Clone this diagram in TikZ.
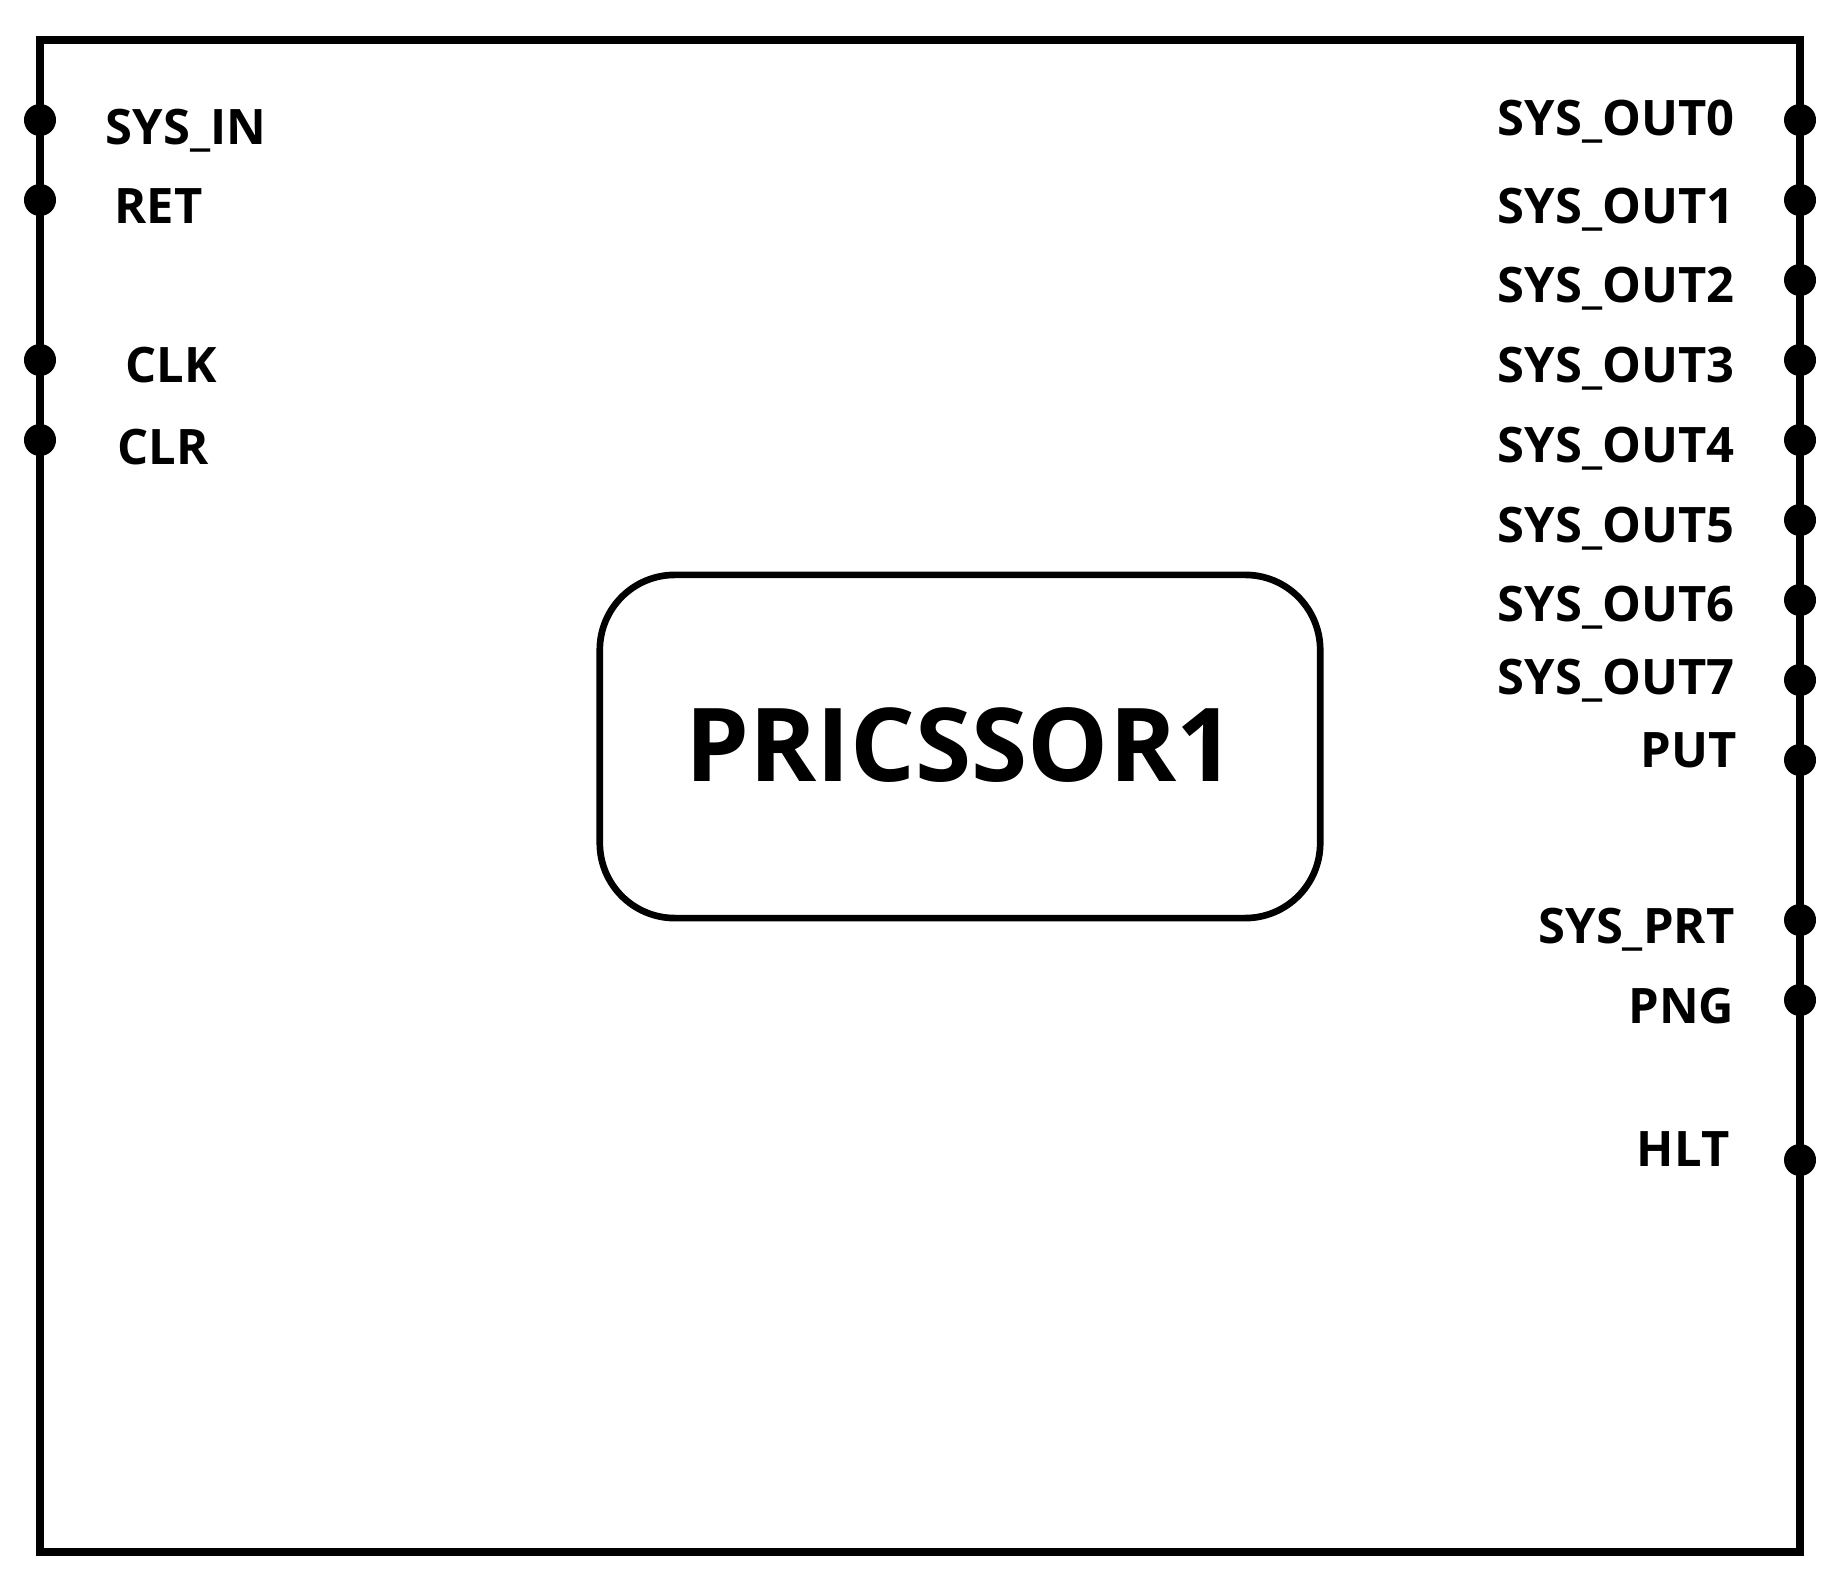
\documentclass[tikz,border=0pt]{standalone}
\usepackage{fontspec}
\setmainfont{Open Sans}
\usetikzlibrary{positioning}
\tikzset{
  pindot/.style={circle, fill=black, inner sep=0pt, minimum size=0.32cm},
  pinlbl/.style={inner sep=0pt, font=\fontsize{13.9}{16}\selectfont\bfseries},
  corebox/.style={draw, line width=1.9pt, rounded corners=0.75cm, minimum width=7.2cm, minimum height=3.43cm, font=\fontsize{29}{34}\selectfont\bfseries}
}

\begin{document}
\begin{tikzpicture}[x=0.01cm, y=-0.01cm]
  \useasboundingbox (0,0) rectangle (1848,1592);

  %--- Outer frame ---
  \draw[line width=2.2pt] (40,40) rectangle (1800,1552);

  %--- Core ---
  \node[corebox] (core) at (960,746.5) {};
  \node[pinlbl, font=\fontsize{29}{34}\selectfont\bfseries, anchor=base] (corename) at (960,782) {PRICSSOR1};

  %--- Left pins ---
  \node[pindot] (sysin) at (40,120) {};
  \node[pindot] (ret) at (40,200) {};
  \node[pindot] (clk) at (40,360) {};
  \node[pindot] (clr) at (40,440) {};

  \node[pinlbl, anchor=base west] (sysinlbl) at (105,145) {SYS\_IN};
  \node[pinlbl, anchor=base west] (retlbl) at (114,224) {RET};
  \node[pinlbl, anchor=base west] (clklbl) at (125,383) {CLK};
  \node[pinlbl, anchor=base west] (clrlbl) at (117,465) {CLR};

  %--- Right pins ---
  \foreach \i/\yd/\yb in {0/120/136, 1/200/224, 2/280/303, 3/360/383, 4/440/463, 5/520/543, 6/600/622, 7/680/695} {
    \node[pindot] (out\i) at (1800,\yd) {};
    \node[pinlbl, anchor=base east] (out\i lbl) at (1735,\yb) {SYS\_OUT\i};
  }

  \node[pindot] (put) at (1800,760) {};
  \node[pindot] (sysprt) at (1800,920) {};
  \node[pindot] (png) at (1800,1000) {};
  \node[pindot] (hlt) at (1800,1160) {};

  \node[pinlbl, anchor=base east] (putlbl) at (1737,768) {PUT};
  \node[pinlbl, anchor=base east] (sysprtlbl) at (1735,944) {SYS\_PRT};
  \node[pinlbl, anchor=base east] (pnglbl) at (1735,1024) {PNG};
  \node[pinlbl, anchor=base east] (hltlbl) at (1730,1167) {HLT};
\end{tikzpicture}
\end{document}
